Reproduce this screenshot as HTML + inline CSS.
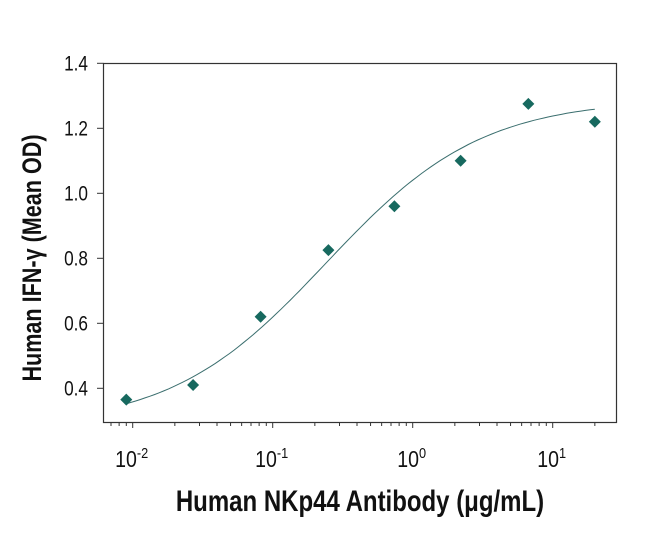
<!DOCTYPE html>
<html><head><meta charset="utf-8"><style>
body{margin:0;background:#fff;}
svg text{font-family:"Liberation Sans",sans-serif;fill:#111;}
</style></head><body>
<svg width="650" height="530" viewBox="0 0 650 530" xmlns="http://www.w3.org/2000/svg">
<rect x="103.5" y="63.5" width="513" height="359" fill="none" stroke="#333" stroke-width="1.2"/>
<g id="yticks"></g><g id="xticks"></g>
<path id="curve" fill="none" stroke="#3a6e6e" stroke-width="1"/>
<g id="points"></g>
<text transform="translate(41,258) rotate(-90) scale(0.8,1)" text-anchor="middle" font-size="27" font-weight="bold">Human IFN-γ (Mean OD)</text>
<text transform="translate(360,511) scale(0.8,1)" text-anchor="middle" font-size="30" font-weight="bold">Human NKp44 Antibody (μg/mL)</text>
</svg>
<script>
const xValues=[0.009,0.027,0.082,0.25,0.74,2.2,6.7,20];
const yValues=[0.365,0.41,0.62,0.825,0.96,1.10,1.275,1.22];
const yTicks=[0.4,0.6,0.8,1.0,1.2,1.4];
const yTickLabels=["0.4","0.6","0.8","1.0","1.2","1.4"];
const xDecades=[-2,-1,0,1];
const fitParams=[0.28,1.29,0.24,0.78]; // bottom, top, EC50, hill
const NS="http://www.w3.org/2000/svg";
const X=v=>132.7+140*(Math.log10(v)+2);
const Y=v=>388.3-(v-0.4)*325;
function mk(t,a,p){const e=document.createElementNS(NS,t);for(const k in a)e.setAttribute(k,a[k]);p.appendChild(e);return e;}
const yt=document.getElementById('yticks');
yTicks.forEach((v,i)=>{
 const l=mk('line',{x1:97,x2:103.5,y1:Y(v),y2:Y(v),stroke:'#333'},yt);
 
 
 const t=mk('text',{x:0,y:0,'font-size':21,'text-anchor':'end',transform:`translate(88,${Y(v)+7}) scale(0.82,1)`},yt);
 t.textContent=yTickLabels[i];
 
 
});
const xt=document.getElementById('xticks');
for(let d=-3;d<=1;d++){for(let m=1;m<10;m++){const v=m*Math.pow(10,d);if(v<0.007||v>21)continue;
 const l=mk('line',{x1:X(v),x2:X(v),y1:422.5,y2:m===1?428:426,stroke:'#333'},xt);
 
 }}
xDecades.forEach(d=>{
 const t=mk('text',{x:0,y:0,'font-size':23,'text-anchor':'middle',transform:`translate(${X(Math.pow(10,d))-1},467) scale(0.85,1)`},xt);
 t.innerHTML='10<tspan dy="-9" font-size="15">'+d+'</tspan>';
 
 
});
const [b,tp,ec,h]=fitParams;
let dstr='';
const lo=Math.log10(xValues[0]),hi=Math.log10(xValues[xValues.length-1]);
for(let i=0;i<=100;i++){const lx=lo+(hi-lo)*i/100,x=Math.pow(10,lx);const r=Math.pow(x/ec,h);const y=b+(tp-b)*r/(1+r);dstr+=(i?'L':'M')+X(x).toFixed(1)+','+Y(y).toFixed(1);}
document.getElementById('curve').setAttribute('d',dstr);
const pg=document.getElementById('points');
xValues.forEach((x,i)=>{const cx=X(x),cy=Y(yValues[i]);
 const p=mk('polygon',{points:`${cx},${cy-6} ${cx+6},${cy} ${cx},${cy+6} ${cx-6},${cy}`,fill:'#17695f'},pg);
 
 
});
</script>
</body></html>
